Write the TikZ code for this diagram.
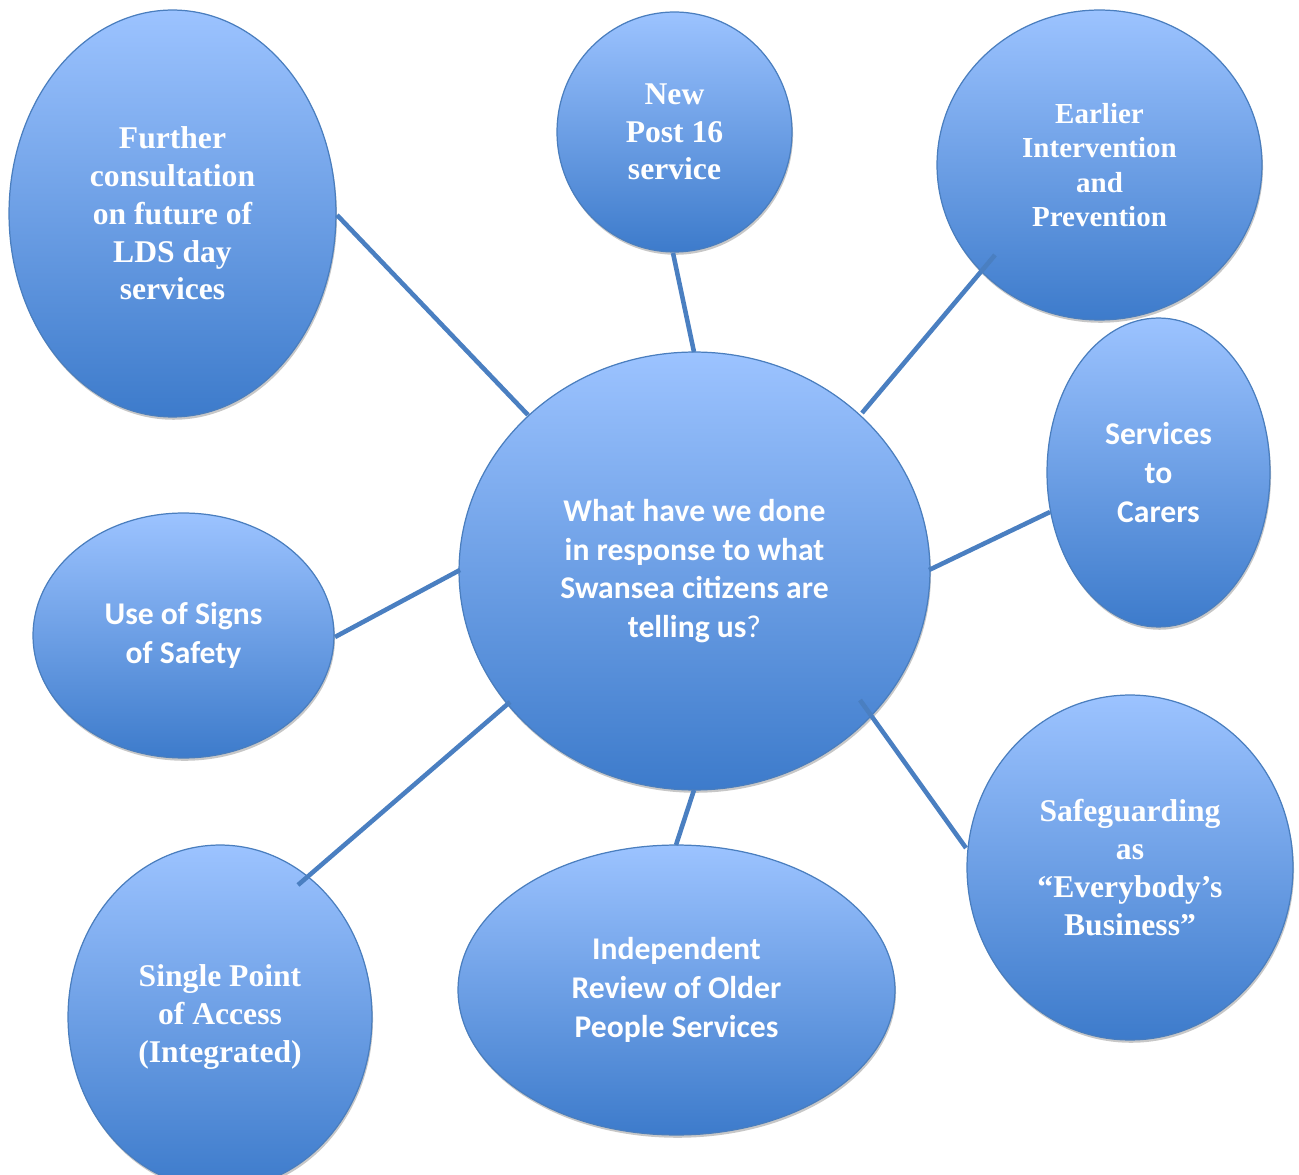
\documentclass[tikz,border=0pt]{standalone}
\usepackage{fontspec}
\setmainfont{Liberation Serif}
\newfontfamily\calibri{Carlito}
\usetikzlibrary{shapes.geometric,shadows}
\definecolor{topblue}{HTML}{9CC3FF}
\definecolor{botblue}{HTML}{3D7BCB}
\definecolor{edgeblue}{HTML}{4A7EBE}
\definecolor{linkblue}{HTML}{4A7FC1}
\tikzset{
  bubble/.style={ellipse, inner sep=0pt, draw=edgeblue, line width=0.7pt,
    top color=topblue, bottom color=botblue, text=white, align=center,
    drop shadow={shadow xshift=0.6pt, shadow yshift=-1.6pt, opacity=0.22, fill=black}},
  serifbub/.style={bubble, font=\bfseries\fontsize{18}{21.5}\selectfont},
  sansbub/.style={bubble, font=\calibri\bfseries\fontsize{18}{22}\selectfont},
  link/.style={draw=linkblue, line width=2.6pt}
}
\begin{document}
\begin{tikzpicture}[x=0.02cm, y=-0.02cm]
\useasboundingbox (0,0) rectangle (1299,1175);
\clip (0,0) rectangle (1299,1175);
\node[sansbub, minimum width=9.42cm, minimum height=8.76cm] (H) at (694.5,571)
  {What have we done\\in response to what\\Swansea citizens are\\telling us{\mdseries ?}};
\node[serifbub, minimum width=6.54cm, minimum height=8.14cm] (F) at (172.5,213.5)
  {Further\\consultation\\on future of\\LDS day\\services};
\node[serifbub, minimum width=4.7cm, minimum height=4.8cm] (N) at (674.5,132)
  {New\\Post 16\\service};
\node[bubble, font=\bfseries\fontsize{16.5}{19.5}\selectfont, minimum width=6.5cm, minimum height=6.2cm] (E) at (1099.5,165)
  {Earlier\\Intervention\\and\\Prevention};
\node[sansbub, minimum width=4.46cm, minimum height=6.18cm] (C) at (1158.5,472.5)
  {Services\\to\\Carers};
\node[sansbub, minimum width=6.02cm, minimum height=4.9cm] (S) at (183.5,635.5)
  {Use of Signs\\of Safety};
\node[serifbub, minimum width=6.08cm, minimum height=6.88cm] (P) at (220,1017)
  {Single Point\\of Access\\(Integrated)};
\node[sansbub, minimum width=8.74cm, minimum height=5.8cm] (I) at (676.5,990)
  {Independent\\Review of Older\\People Services};
\node[serifbub, minimum width=6.52cm, minimum height=6.9cm] (G) at (1130,867.5)
  {Safeguarding\\as\\“Everybody’s\\Business”};
\draw[link] ([shift={(164.5,1.5)}]F.center) -- ([shift={(-166.5,-156)}]H.center);
\draw[link] ([shift={(-1.5,121)}]N.center) -- ([shift={(-0.5,-219)}]H.center);
\draw[link] ([shift={(-104.5,90)}]E.center) -- ([shift={(167.5,-158)}]H.center);
\draw[link] ([shift={(-108.5,39.5)}]C.center) -- ([shift={(234.5,-1)}]H.center);
\draw[link] ([shift={(151.5,1.5)}]S.center) -- ([shift={(-234.5,-1)}]H.center);
\draw[link] ([shift={(78,-132)}]P.center) -- ([shift={(-184.5,131)}]H.center);
\draw[link] ([shift={(-0.5,-145)}]I.center) -- ([shift={(-0.5,219)}]H.center);
\draw[link] ([shift={(-164,-19.5)}]G.center) -- ([shift={(165.5,129)}]H.center);
\end{tikzpicture}
\end{document}
